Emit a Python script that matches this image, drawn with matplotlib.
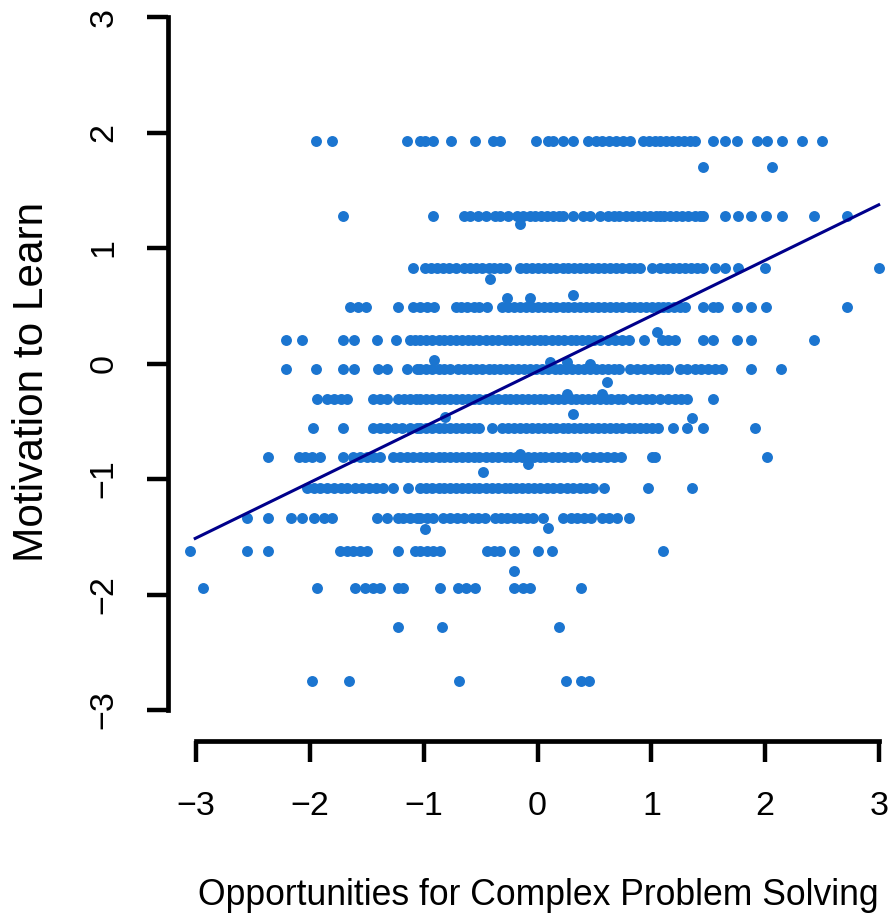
import matplotlib.pyplot as plt
import numpy as np

plt.rcParams["font.family"] = ["Liberation Sans", "DejaVu Sans"]

# x values of the points on each discrete y level
level_y = [1.93, 1.70, 1.28, 0.83, 0.49, 0.20, -0.05, -0.31, -0.56, -0.81, -1.08, -1.34, -1.62, -1.94, -2.28, -2.75]
level_x = [
    [-1.95, -1.81, -1.15, -1.03, -0.99, -0.92, -0.76, -0.55, -0.39, -0.33, -0.01, 0.09, 0.14, 0.22, 0.31,
     0.44, 0.51, 0.57, 0.63, 0.69, 0.75, 0.81, 0.93, 0.98, 1.03, 1.08, 1.13, 1.18, 1.23, 1.29, 1.34, 1.38,
     1.54, 1.65, 1.75, 1.93, 2.02, 2.15, 2.32, 2.50],
    [1.45, 2.06],
    [-1.71, -0.92, -0.65, -0.59, -0.52, -0.45, -0.37, -0.33, -0.26, -0.18, -0.13, -0.07, -0.02, 0.03, 0.08,
     0.14, 0.19, 0.22, 0.31, 0.40, 0.46, 0.55, 0.62, 0.67, 0.72, 0.78, 0.83, 0.88, 0.94, 0.99, 1.04, 1.08,
     1.11, 1.16, 1.22, 1.27, 1.32, 1.38, 1.43, 1.45, 1.65, 1.76, 1.88, 2.01, 2.15, 2.43, 2.72],
    [-1.09, -0.99, -0.94, -0.88, -0.83, -0.78, -0.72, -0.65, -0.59, -0.54, -0.49, -0.43, -0.38, -0.33, -0.28,
     -0.15, -0.10, -0.05, 0.00, 0.06, 0.11, 0.16, 0.22, 0.27, 0.32, 0.37, 0.43, 0.48, 0.53, 0.58, 0.64, 0.69,
     0.74, 0.80, 0.85, 0.90, 1.01, 1.08, 1.14, 1.19, 1.24, 1.30, 1.35, 1.40, 1.45, 1.56, 1.65, 1.76, 2.00, 3.00],
    [-1.65, -1.58, -1.51, -1.23, -1.09, -1.03, -0.97, -0.91, -0.72, -0.67, -0.62, -0.56, -0.51, -0.44,
     -0.31, -0.26, -0.21, -0.15, -0.10, -0.05, 0.00, 0.06, 0.11, 0.16, 0.22, 0.27, 0.32, 0.37, 0.43, 0.48,
     0.53, 0.58, 0.64, 0.69, 0.74, 0.80, 0.85, 0.90, 0.95, 1.01, 1.06, 1.10, 1.15, 1.20, 1.25, 1.30, 1.45,
     1.54, 1.59, 1.75, 1.88, 2.01, 2.72],
    [-2.21, -2.07, -1.71, -1.61, -1.41, -1.24, -1.12, -1.08, -1.03, -0.98, -0.93, -0.87, -0.82, -0.77, -0.72,
     -0.66, -0.61, -0.57, -0.51, -0.45, -0.40, -0.35, -0.29, -0.24, -0.19, -0.14, -0.08, -0.03, 0.02, 0.07,
     0.13, 0.18, 0.23, 0.29, 0.34, 0.39, 0.44, 0.50, 0.55, 0.62, 0.68, 0.74, 0.80, 0.94, 1.09, 1.15, 1.21,
     1.45, 1.54, 1.75, 1.88, 2.43],
    [-2.21, -1.95, -1.71, -1.61, -1.40, -1.32, -1.15, -1.06, -1.03, -0.98, -0.93, -0.87, -0.82, -0.77, -0.70,
     -0.65, -0.59, -0.54, -0.49, -0.43, -0.38, -0.33, -0.28, -0.22, -0.17, -0.12, -0.07, -0.01, 0.04, 0.09,
     0.15, 0.20, 0.25, 0.30, 0.36, 0.41, 0.46, 0.51, 0.57, 0.62, 0.67, 0.72, 0.81, 0.87, 0.94, 1.00, 1.06,
     1.10, 1.15, 1.25, 1.31, 1.38, 1.44, 1.50, 1.56, 1.62, 1.88, 2.14],
    [-1.94, -1.85, -1.79, -1.73, -1.67, -1.45, -1.38, -1.32, -1.23, -1.17, -1.12, -1.07, -1.03, -0.98, -0.93,
     -0.87, -0.82, -0.77, -0.72, -0.66, -0.61, -0.56, -0.51, -0.45, -0.40, -0.35, -0.29, -0.24, -0.19, -0.14,
     -0.08, -0.03, 0.02, 0.07, 0.13, 0.18, 0.23, 0.29, 0.34, 0.39, 0.44, 0.50, 0.55, 0.60, 0.65, 0.71, 0.75,
     0.83, 0.89, 0.95, 1.01, 1.08, 1.15, 1.21, 1.26, 1.31, 1.54],
    [-1.97, -1.71, -1.45, -1.38, -1.32, -1.25, -1.19, -1.12, -1.06, -1.03, -0.98, -0.93, -0.87, -0.82, -0.77,
     -0.72, -0.66, -0.61, -0.56, -0.51, -0.40, -0.31, -0.26, -0.21, -0.15, -0.10, -0.05, 0.00, 0.06, 0.11,
     0.16, 0.22, 0.27, 0.32, 0.37, 0.43, 0.48, 0.53, 0.58, 0.64, 0.69, 0.74, 0.80, 0.85, 0.90, 0.95, 1.01,
     1.06, 1.19, 1.31, 1.45, 1.91],
    [-2.37, -2.10, -2.04, -1.98, -1.91, -1.71, -1.62, -1.56, -1.50, -1.45, -1.38, -1.27, -1.21, -1.15, -1.09,
     -1.03, -0.98, -0.93, -0.87, -0.82, -0.77, -0.72, -0.66, -0.61, -0.56, -0.51, -0.45, -0.40, -0.35, -0.29,
     -0.24, -0.19, -0.14, -0.08, -0.03, 0.02, 0.07, 0.13, 0.18, 0.23, 0.29, 0.34, 0.43, 0.49, 0.55, 0.61,
     0.67, 0.73, 1.01, 1.03, 2.02],
    [-2.03, -1.96, -1.91, -1.85, -1.79, -1.73, -1.67, -1.60, -1.54, -1.48, -1.42, -1.36, -1.27, -1.14, -1.03,
     -0.98, -0.93, -0.87, -0.82, -0.77, -0.72, -0.66, -0.61, -0.56, -0.51, -0.45, -0.40, -0.35, -0.29, -0.24,
     -0.19, -0.14, -0.08, -0.03, 0.02, 0.08, 0.14, 0.20, 0.26, 0.31, 0.37, 0.43, 0.49, 0.58, 0.97, 1.36],
    [-2.55, -2.37, -2.17, -2.07, -1.96, -1.88, -1.81, -1.41, -1.32, -1.23, -1.18, -1.12, -1.06, -1.03, -0.97,
     -0.92, -0.83, -0.77, -0.71, -0.65, -0.58, -0.52, -0.46, -0.37, -0.32, -0.27, -0.21, -0.15, -0.09, -0.04,
     0.05, 0.22, 0.29, 0.35, 0.41, 0.47, 0.57, 0.63, 0.70, 0.80],
    [-3.05, -2.55, -2.37, -1.74, -1.67, -1.62, -1.56, -1.50, -1.23, -1.08, -1.03, -0.97, -0.92, -0.86, -0.44,
     -0.38, -0.33, -0.21, 0.00, 0.13, 1.10],
    [-2.94, -1.94, -1.60, -1.52, -1.45, -1.38, -1.23, -1.18, -0.86, -0.70, -0.63, -0.55, -0.21, -0.13, -0.07, 0.38],
    [-1.23, -0.84, 0.19],
    [-1.98, -1.66, -0.69, 0.25, 0.38, 0.45],
]

# points that sit off the main levels
extra_x = [-0.15, -0.42, -0.27, -0.07, 0.31, 1.05, -0.91, 0.11, 0.26, 0.46, 0.61, 0.26, 0.57, 0.31,
           -0.81, 1.36, -0.15, -0.08, -0.48, -0.99, 0.09, -0.21]
extra_y = [1.21, 0.73, 0.57, 0.57, 0.59, 0.27, 0.03, 0.01, 0.01, 0.00, -0.16, -0.26, -0.26, -0.44,
           -0.46, -0.47, -0.78, -0.87, -0.94, -1.43, -1.42, -1.80]

# fitted regression line
fit_x = [-3.02, 3.01]
fit_y = [-1.52, 1.38]

tick_vals = [-3, -2, -1, 0, 1, 2, 3]
tick_labels = ["\u22123", "\u22122", "\u22121", "0", "1", "2", "3"]

xs = np.concatenate([np.array(row) for row in level_x] + [np.array(extra_x)])
ys = np.concatenate([np.full(len(row), yv) for row, yv in zip(level_x, level_y)] + [np.array(extra_y)])

W, H = 891, 914
fig = plt.figure(figsize=(W / 100, H / 100), dpi=100)
ax = fig.add_axes([168 / W, 1 - 741 / H, (W - 168) / W, 731 / H])

ax.scatter(xs, ys, s=62, color="#1B75D0", linewidths=0, zorder=2, clip_on=False)
ax.plot(fit_x, fit_y, color="#00008B", lw=2.2, zorder=3, solid_capstyle="butt")

ax.set_xlim(-3.247, 3.106)
ax.set_ylim(-3.268, 3.061)

for side in ("top", "right"):
    ax.spines[side].set_visible(False)
for side in ("left", "bottom"):
    ax.spines[side].set_linewidth(3.4)
    ax.spines[side].set_bounds(-3, 3)
    ax.spines[side].set_capstyle("projecting")

ax.set_xticks(tick_vals)
ax.set_xticklabels(tick_labels, fontsize=24.5)
ax.set_yticks(tick_vals)
ax.set_yticklabels(tick_labels, fontsize=24.5, rotation=90, va="center", ha="right")
ax.tick_params(axis="both", direction="out", length=15, width=3.2)
ax.tick_params(axis="x", pad=21)
ax.tick_params(axis="y", pad=20)

fig.text(538 / W, 1 - 905 / H, "Opportunities for Complex Problem Solving", fontsize=25.6,
         ha="center", va="baseline")
fig.text(32 / W, 1 - 381.5 / H, "Motivation to Learn", fontsize=30.5, rotation=90,
         ha="center", va="center")

fig.savefig("out.png", dpi=100)
